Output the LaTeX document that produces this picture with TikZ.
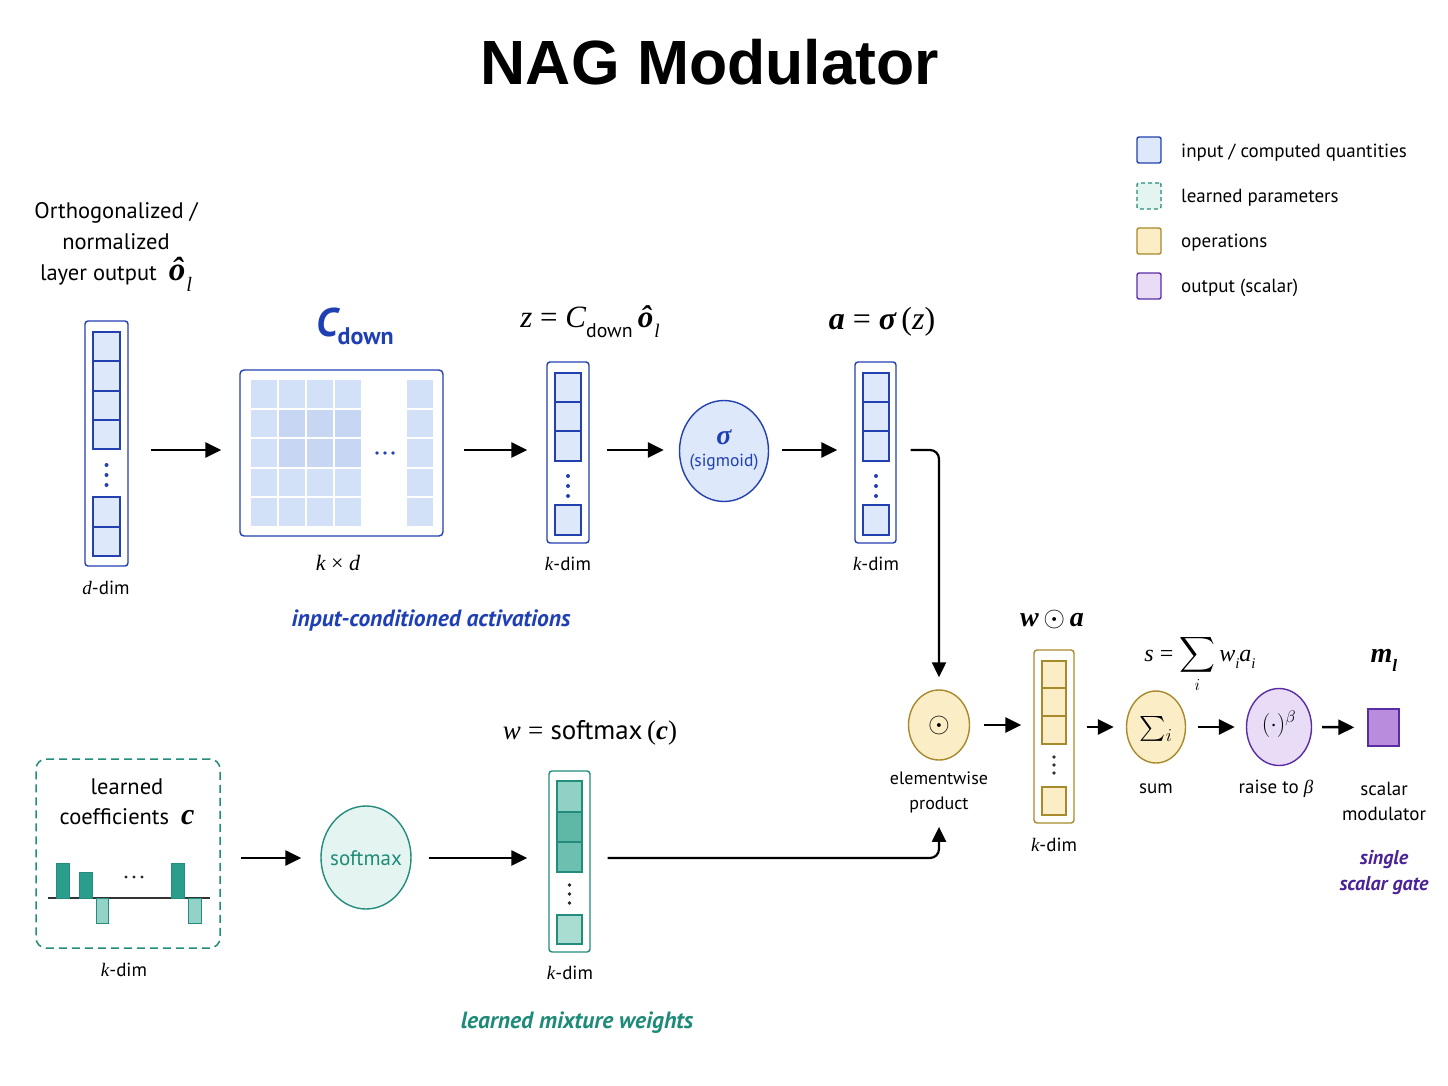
\RequirePackage{fix-cm}
\documentclass[tikz,border=0pt]{standalone}
\usepackage{amsmath}
\usepackage{bm}
\usepackage{fontspec}
\setmainfont{PT Sans}
\newfontfamily\titlefont{Liberation Sans}
\newfontfamily\mserif{Liberation Serif}
\newcommand{\vi}[1]{{\mserif\itshape #1}}
\newcommand{\vb}[1]{{\mserif\bfseries\itshape #1}}
\newcommand{\vsub}[1]{\raisebox{-0.32em}{\scalebox{0.62}{#1}}}
\usetikzlibrary{arrows.meta,shapes.geometric}
\AtBeginDocument{\thickmuskip=3.5mu\medmuskip=2.5mu}
\definecolor{bblue}{HTML}{2340B0}
\definecolor{bfill}{HTML}{DDE8FA}
\definecolor{mfill}{HTML}{D3E1F8}
\definecolor{mdark}{HTML}{C7D7F3}
\definecolor{tteal}{HTML}{238C7C}
\definecolor{ttext}{HTML}{1E8A78}
\definecolor{tfill}{HTML}{E4F4F1}
\definecolor{tbar}{HTML}{2A9D8C}
\definecolor{tbarl}{HTML}{93D3C7}
\definecolor{tcellA}{HTML}{8FD2C4}
\definecolor{tcellB}{HTML}{5FB8A6}
\definecolor{tcellC}{HTML}{6DC0AF}
\definecolor{tcellD}{HTML}{A9DDD2}
\definecolor{ggold}{HTML}{A8892B}
\definecolor{gfill}{HTML}{FBEDC6}
\definecolor{ppur}{HTML}{5A2DA5}
\definecolor{ptext}{HTML}{4A2396}
\definecolor{pfill}{HTML}{E8DCF7}
\definecolor{psq}{HTML}{B98CDD}
\definecolor{btext}{HTML}{1F3FB5}
\tikzset{
  vecbox/.style={rectangle, rounded corners=3pt, line width=1.4pt, inner sep=0pt, fill=white},
  cellb/.style={draw=bblue, fill=bfill, line width=1.3pt},
  cellg/.style={draw=ggold, fill=gfill, line width=1.3pt},
  cellt/.style={draw=tteal, line width=1.3pt},
  arr/.style={-{Triangle[length=16pt,width=15pt]}, line width=2.5pt},
  lbl/.style={font=\fontsize{19}{23}\selectfont, inner sep=0pt},
  legsq/.style={rectangle, rounded corners=2pt, line width=1.4pt, minimum width=24pt, minimum height=26pt, inner sep=0pt},
  legtxt/.style={font=\fontsize{19}{23}\selectfont, anchor=west, inner sep=0pt},
  opcirc/.style={ellipse, inner sep=0pt, line width=1.4pt}
}
\begin{document}
\begin{tikzpicture}[x=1pt,y=-1pt]
\useasboundingbox[fill=white] (0,0) rectangle (1448,1086);

% title
\node[font=\titlefont\bfseries\fontsize{62.5}{68}\selectfont, inner sep=0pt] (title) at (710,62) {NAG Modulator};

% legend
\node[legsq, draw=bblue, fill=bfill] (lg1) at (1149,150) {};
\node[legsq, draw=tteal, fill=tfill, dash pattern=on 4pt off 3pt] (lg2) at (1149,196) {};
\node[legsq, draw=ggold, fill=gfill] (lg3) at (1149,241) {};
\node[legsq, draw=ppur, fill=pfill] (lg4) at (1149,286) {};
\node[legtxt] (lt1) at (1181,153) {input / computed quantities};
\node[legtxt] (lt2) at (1181,198) {learned parameters};
\node[legtxt] (lt3) at (1181,243) {operations};
\node[legtxt] (lt4) at (1181,288) {output (scalar)};

% input label
\node[align=center, font=\fontsize{22.5}{31}\selectfont, inner sep=0pt] (inlab) at (116,247)
  {Orthogonalized /\\ normalized\\ layer output\ \ {\fontsize{33}{33}\selectfont\vb{ô}\kern1pt\vsub{\vi{l}}}};

% d-vector
\node[vecbox, draw=bblue, minimum width=43pt, minimum height=245pt] (dvec) at (106.5,443.5) {};
\foreach \a/\b in {332/361,361/391,391/420,420/449,497/527,527/556}
  \draw[cellb] (93,\a) rectangle (120,\b);
\foreach \y in {465,475,485} \fill[bblue] (106.5,\y) circle (2pt);
\node[lbl] (dlab) at (106,588) {\vi{d}-dim};

% matrix
\node[vecbox, draw=bblue, minimum width=203pt, minimum height=166pt, rounded corners=4pt] (mat) at (341.5,453) {};
\foreach \c [count=\i] in {251,279,307,335}
  \foreach \r [count=\j] in {380,409.5,439,468.5,498}{
    \pgfmathsetmacro{\dk}{(\i==2 || \i==3 || \i==4) && (\j==2 || \j==3) ? 1 : 0}
    \ifdim\dk pt>0.5pt \fill[mdark] (\c,\r) rectangle ++(26,27.5);
    \else \fill[mfill] (\c,\r) rectangle ++(26,27.5); \fi
  }
\foreach \r in {380,409.5,439,468.5,498} \fill[mfill] (407,\r) rectangle ++(26,27.5);
\foreach \x in {377,385,393} \fill[bblue] (\x,453) circle (1.8pt);
\node[inner sep=0pt, text=btext, font=\fontsize{40}{44}\selectfont\bfseries\itshape] (cdown) at (355,326)
  {C\raisebox{-8pt}{\fontsize{24}{26}\selectfont\upshape down}};
\node[lbl, font=\fontsize{22}{24}\selectfont\mserif] (kxd) at (338,563) {\vi{k} × \vi{d}};

% z-vector
\node[vecbox, draw=bblue, minimum width=42pt, minimum height=181pt] (zvec) at (568,452.5) {};
\foreach \a/\b in {373/402,402/431,431/461,505/535}
  \draw[cellb] (555,\a) rectangle (581,\b);
\foreach \y in {476,486,496} \fill[bblue] (568,\y) circle (2pt);
\node[lbl] (zlab) at (568,564) {\vi{k}-dim};
\node[inner sep=0pt, font=\fontsize{31}{33}\selectfont\mserif] (zeq) at (590,322)
  {\vi{z} = \vi{C}\vsub{\normalfont\fontsize{32}{34}\selectfont down}\,\vb{ô}\kern1pt\vsub{\vi{l}}};

% sigma
\node[opcirc, draw=bblue, fill=bfill, minimum width=89pt, minimum height=101pt] (sig) at (724,451) {};
\node[inner sep=0pt, text=btext, font=\fontsize{28}{30}\selectfont] (sigs) at (724,437) {\vb{σ}};
\node[inner sep=0pt, text=btext, font=\fontsize{17.5}{20}\selectfont] (sigt) at (724,462) {(sigmoid)};

% a-vector
\node[vecbox, draw=bblue, minimum width=41pt, minimum height=181pt] (avec) at (875.5,452.5) {};
\foreach \a/\b in {373/402,402/431,431/461,505/535}
  \draw[cellb] (863,\a) rectangle (889,\b);
\foreach \y in {476,486,496} \fill[bblue] (876,\y) circle (2pt);
\node[lbl] (alab) at (876,564) {\vi{k}-dim};
\node[inner sep=0pt, font=\fontsize{32}{34}\selectfont\mserif] (aeq) at (882,322) {\vb{a} = \vb{σ}\,(\vi{z})};

\node[inner sep=0pt, text=btext, font=\fontsize{23.5}{26}\selectfont\bfseries\itshape] (ica) at (431,620) {input-conditioned activations};

% top arrows
\draw[arr, shorten <=22pt, shorten >=18pt] (dvec.east |- 0,450) -- (mat.west |- 0,450);
\draw[arr, shorten <=20pt, shorten >=19pt] (mat.east |- 0,450) -- (zvec.west |- 0,450);
\draw[arr, shorten <=17pt, shorten >=15pt] (zvec.east |- 0,450) -- (sig.west |- 0,450);
\draw[arr, shorten <=13pt, shorten >=17pt] (sig.east |- 0,450) -- (avec.west |- 0,450);

% elementwise
\node[opcirc, draw=ggold, fill=gfill, minimum width=61pt, minimum height=70pt] (ew) at (939,725) {};
\node[inner sep=0pt, font=\fontsize{28}{30}\selectfont] (ews) at (939,725) {$\odot$};
\node[align=center, font=\fontsize{18}{25}\selectfont, inner sep=0pt] (ewlab) at (939,792) {elementwise\\product};

\draw[line width=2.2pt, -{Triangle[length=15pt,width=14pt]}, rounded corners=9pt, shorten >=12pt]
  ([xshift=14pt]avec.east |- 0,450) -| (ew.north);

% w odot a vector
\node[vecbox, draw=ggold, minimum width=40pt, minimum height=173pt] (wavec) at (1054,736.5) {};
\foreach \a/\b in {661/688,688/716,716/744,787/815}
  \draw[cellg] (1042,\a) rectangle (1066,\b);
\foreach \y in {757,765,773} \fill[black!80] (1054,\y) circle (1.8pt);
\node[lbl] (walab) at (1054,845) {\vi{k}-dim};
\node[inner sep=0pt, font=\fontsize{28}{30}\selectfont] (waeq) at (1052,619) {\vb{w}\,$\odot$\,\vb{a}};

% sum
\node[opcirc, draw=ggold, fill=gfill, minimum width=59pt, minimum height=72pt] (sum) at (1156,727) {};
\node[inner sep=0pt, font=\fontsize{26}{28}\selectfont] (sums) at (1156,729) {$\sum_i$};
\node[lbl] (sumlab) at (1156,789) {sum};
\node[inner sep=0pt, font=\fontsize{24}{26}\selectfont\mserif] (seq) at (1200,664)
  {\vi{s} = $\displaystyle\sum_i$\,\vi{w}\vsub{\vi{i}}\vi{a}\vsub{\vi{i}}};

% raise
\node[opcirc, draw=ppur, fill=pfill, minimum width=65pt, minimum height=77pt] (rai) at (1279,727) {};
\node[inner sep=0pt, font=\fontsize{24}{26}\selectfont] (rais) at (1279,724) {$(\cdot)^{\beta}$};
\node[lbl] (railab) at (1276,789) {raise to \vi{β}};

% output
\node[rectangle, draw=ppur, fill=psq, line width=1.3pt, minimum width=31pt, minimum height=37pt, inner sep=0pt] (outsq) at (1383.5,727.5) {};
\node[inner sep=0pt, font=\fontsize{28}{30}\selectfont] (meq) at (1384,660) {\vb{m}\vsub{\vb{l}}};
\node[align=center, font=\fontsize{19}{25}\selectfont, inner sep=0pt] (outlab) at (1384,801) {scalar\\modulator};
\node[align=center, text=ptext, font=\fontsize{20}{26}\selectfont\bfseries\itshape, inner sep=0pt] (ssg) at (1384,873) {single\\scalar gate};

% right arrows
\draw[arr, shorten <=14pt, shorten >=12pt] (ew.east) -- (ew.east -| wavec.west);
\draw[arr, shorten <=12pt, shorten >=12pt] (wavec.east |- sum) -- (sum.west);
\draw[arr, shorten <=12pt, shorten >=11pt] (sum.east) -- (rai.west);
\draw[arr, shorten <=10pt, shorten >=13pt] (rai.east) -- (outsq.west);

% learned coefficients
\node[rectangle, draw=tteal, dash pattern=on 8pt off 5pt, line width=1.5pt, rounded corners=10pt, fill=white, minimum width=184pt, minimum height=189pt, inner sep=0pt] (coef) at (128,853.5) {};
\node[align=center, font=\fontsize{22.5}{30}\selectfont, inner sep=0pt] (coeft) at (127,802) {learned\\coefficients\ \ {\fontsize{30}{30}\selectfont\vb{c}}};
\draw[line width=1.6pt, black!80] (48,898) -- (210,898);
\draw[draw=tteal, fill=tbar, line width=1pt] (56,863) rectangle (69,898);
\draw[draw=tteal, fill=tbar, line width=1pt] (79,872) rectangle (92,898);
\draw[draw=tteal, fill=tbarl, line width=1pt] (96,898) rectangle (108,923);
\draw[draw=tteal, fill=tbar, line width=1pt] (171,863) rectangle (184,898);
\draw[draw=tteal, fill=tbarl, line width=1pt] (188,898) rectangle (201,923);
\foreach \x in {126,134,142} \fill[black!85] (\x,877) circle (1.6pt);
\node[lbl] (clab) at (124,970) {\vi{k}-dim};

% softmax
\node[opcirc, draw=tteal, fill=tfill, minimum width=90pt, minimum height=103pt] (smx) at (366,857.5) {};
\node[inner sep=0pt, text=ttext, font=\fontsize{21}{24}\selectfont] (smxt) at (366,858) {softmax};

% w-vector
\node[vecbox, draw=tteal, minimum width=41pt, minimum height=181pt] (wvec) at (569.5,861.5) {};
\draw[cellt, fill=tcellA] (557,781) rectangle (582,812);
\draw[cellt, fill=tcellB] (557,812) rectangle (582,842);
\draw[cellt, fill=tcellC] (557,842) rectangle (582,872);
\draw[cellt, fill=tcellD] (557,915) rectangle (582,944);
\foreach \y in {885,894,903} \fill[black!85] (569.5,\y) circle (1.8pt);
\node[lbl] (wlab) at (570,973) {\vi{k}-dim};
\node[inner sep=0pt, font=\fontsize{27}{29}\selectfont] (weq) at (590,733) {\vi{w} {\mserif=} softmax{\mserif\,(}\vb{c}{\mserif)}};
\node[inner sep=0pt, text=ttext, font=\fontsize{23.5}{26}\selectfont\bfseries\itshape] (lmw) at (577,1023) {learned mixture weights};

% bottom arrows
\draw[arr, shorten <=20pt, shorten >=19pt] (coef.east |- 0,858) -- (smx.west |- 0,858);
\draw[arr, shorten <=17pt, shorten >=21pt] (smx.east |- 0,858) -- (wvec.west |- 0,858);
\draw[line width=2.2pt, -{Triangle[length=15pt,width=14pt]}, rounded corners=9pt, shorten >=14pt]
  ([xshift=17pt]wvec.east |- 0,858) -| (ewlab.south);
\end{tikzpicture}
\end{document}
